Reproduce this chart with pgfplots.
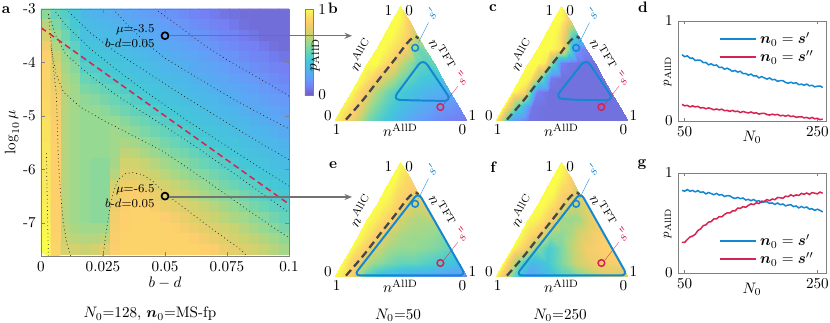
\documentclass[border=0pt]{standalone}
\usepackage{pgfplots}
\usepackage{bm}
\pgfplotsset{compat=1.18}
\usetikzlibrary{arrows.meta}
\definecolor{lblue}{RGB}{20,135,210}
\definecolor{lred}{RGB}{214,35,80}
\definecolor{dgray}{RGB}{70,70,70}
\pgfplotsset{
  colormap={paru}{rgb255(0cm)=(110,92,190) rgb255(1cm)=(116,128,244) rgb255(2cm)=(98,159,249)
    rgb255(3cm)=(77,182,234) rgb255(4cm)=(68,200,215) rgb255(5cm)=(100,211,186)
    rgb255(6cm)=(150,217,146) rgb255(7cm)=(203,211,112) rgb255(8cm)=(236,206,106)
    rgb255(8.5cm)=(253,206,110) rgb255(9cm)=(251,217,100) rgb255(9.5cm)=(248,234,92)
    rgb255(10cm)=(251,252,74)},
  colormap name=paru, point meta min=0, point meta max=1,
  tern/.style={anchor=south west, scale only axis, width=87.78pt, height=76.02pt,
    xmin=0, xmax=1, ymin=0, ymax=0.866, hide axis, clip=false},
  tpatch/.style={surf, shader=interp, mesh/cols=9, point meta=explicit},
  cont/.style={dotted, black!85, line width=0.5pt},
  lines/.style={anchor=south west, scale only axis, width=97.68pt, height=66pt,
    xmin=40, xmax=263, ymin=0, ymax=1, xtick={50,250}, ytick={0,1},
    tick align=inside, major tick length=2pt, axis line style={gray}, tick style={gray},
    xlabel={$N_0$}, ylabel={$p_{\mathrm{AllD}}$},
    ylabel style={font=\footnotesize, at={(axis description cs:-0.07,0.5)}, anchor=center},
    xlabel style={at={(axis description cs:0.5,-0.16)}, anchor=center},
    legend style={draw=none, fill=none, row sep=-1pt}, legend cell align=left,
    legend image code/.code={\draw[#1, line width=1.3pt] (0pt,0pt) -- (24pt,0pt);}},
}
% ternary x/y from lattice index: 9 points per row, row j has AllC share j/8
\newcommand{\ternx}{mod(\coordindex,9)/8*(1-floor(\coordindex/9)/8)+floor(\coordindex/9)/16}
\newcommand{\terny}{0.866*floor(\coordindex/9)/8}
\newcommand{\terndeco}{%
  \node at (axis cs:0.41,0.83) {1};
  \node at (axis cs:0.565,0.83) {0};
  \node at (axis cs:-0.045,0.04) {0};
  \node at (axis cs:0.02,-0.065) {1};
  \node at (axis cs:1.04,0.045) {1};
  \node at (axis cs:0.965,-0.065) {0};
  \node[rotate=60] at (axis cs:0.2,0.5) {$n^{\mathrm{AllC}}$};
  \node[rotate=-60] at (axis cs:0.815,0.5) {$n^{\mathrm{TFT}}$};
  \node at (axis cs:0.5,-0.07) {$n^{\mathrm{AllD}}$};
  \addplot[dgray, line width=1.5pt, dash pattern=on 5pt off 3pt, smooth] coordinates {
    (0.09,0.01) (0.218,0.158) (0.346,0.323) (0.47,0.48) (0.545,0.58) (0.59,0.625) (0.615,0.635) (0.635,0.62)};
  \draw[lblue, very thin] (axis cs:0.635,0.59) -- (axis cs:0.71,0.74);
  \node[lblue, rotate=60, font=\small] at (axis cs:0.735,0.81) {$s'$};
  \draw[lred, very thin] (axis cs:0.825,0.125) -- (axis cs:0.93,0.26);
  \node[lred, rotate=60, font=\small] at (axis cs:0.965,0.325) {$s''$};
}
\newcommand{\terncircles}{%
  \addplot[only marks, mark=o, mark size=2.2pt, lblue, line width=1pt] coordinates {(0.61,0.55)};
  \addplot[only marks, mark=o, mark size=2.2pt, lred, line width=1pt] coordinates {(0.80,0.105)};
}

\begin{document}
\begin{tikzpicture}[x=0.66pt, y=0.66pt]
\path[use as bounding box] (0,0) rectangle (830,323);

% ---------------- panel a: heat map ----------------
\begin{axis}[at={(27.06pt,44.22pt)}, anchor=south west, scale only axis, width=163.68pt, height=163.02pt,
  xmin=0, xmax=0.1, ymin=-7.62, ymax=-3,
  xtick={0,0.025,0.05,0.075,0.1}, xticklabels={0,0.025,0.05,0.075,0.1},
  ytick={-7,-6,-5,-4,-3}, yticklabels={-7,-6,-5,-4,-3},
  tick align=inside, major tick length=2.5pt, axis line style={gray}, tick style={gray},
  xlabel={$b-d$}, ylabel={$\log_{10}\mu$},
  xlabel style={at={(axis description cs:0.5,-0.11)}, anchor=center},
  ylabel style={at={(axis description cs:-0.117,0.5)}, anchor=center},
  axis on top,
  colorbar, colorbar style={at={(parent axis.north east)}, anchor=north west, xshift=2pt,
    scale only axis, width=5.3pt, height=56.8pt, ytick={0,1}, yticklabels={0,1},
    yticklabel pos=right, axis line style={gray}, major tick length=0pt}]
\addplot[matrix plot*, mesh/cols=25, point meta=explicit]
  table[header=false, row sep=\\, meta index=0,
    x expr={0.002+0.004*mod(\coordindex,25)}, y expr={-3.1-0.2*floor(\coordindex/25)}] {
.58\\ .50\\ .45\\ .38\\ .31\\ .29\\ .28\\ .26\\ .24\\ .22\\ .21\\ .19\\ .17\\ .16\\ .14\\ .12\\ .10\\ .09\\ .07\\ .06\\ .05\\ .05\\ .05\\ .05\\ .05\\
.66\\ .55\\ .48\\ .41\\ .34\\ .32\\ .30\\ .29\\ .27\\ .25\\ .23\\ .22\\ .20\\ .18\\ .17\\ .15\\ .13\\ .11\\ .10\\ .08\\ .06\\ .05\\ .05\\ .05\\ .05\\
.74\\ .60\\ .52\\ .44\\ .36\\ .34\\ .33\\ .31\\ .29\\ .28\\ .26\\ .24\\ .22\\ .21\\ .19\\ .17\\ .16\\ .14\\ .12\\ .11\\ .09\\ .07\\ .05\\ .05\\ .05\\
.82\\ .65\\ .56\\ .48\\ .39\\ .37\\ .35\\ .34\\ .32\\ .30\\ .29\\ .27\\ .25\\ .23\\ .22\\ .20\\ .18\\ .17\\ .15\\ .13\\ .11\\ .10\\ .08\\ .06\\ .05\\
.86\\ .70\\ .60\\ .53\\ .41\\ .40\\ .38\\ .36\\ .35\\ .33\\ .31\\ .29\\ .28\\ .26\\ .24\\ .23\\ .21\\ .19\\ .17\\ .16\\ .14\\ .12\\ .11\\ .09\\ .07\\
.87\\ .74\\ .63\\ .57\\ .46\\ .44\\ .41\\ .39\\ .37\\ .35\\ .34\\ .32\\ .30\\ .29\\ .27\\ .25\\ .23\\ .22\\ .20\\ .18\\ .17\\ .15\\ .13\\ .11\\ .10\\
.87\\ .78\\ .65\\ .60\\ .51\\ .48\\ .45\\ .42\\ .40\\ .38\\ .36\\ .35\\ .33\\ .31\\ .30\\ .28\\ .26\\ .24\\ .23\\ .21\\ .19\\ .18\\ .16\\ .14\\ .12\\
.88\\ .80\\ .66\\ .62\\ .55\\ .53\\ .50\\ .47\\ .44\\ .41\\ .39\\ .37\\ .36\\ .34\\ .32\\ .30\\ .29\\ .27\\ .25\\ .24\\ .22\\ .20\\ .18\\ .17\\ .15\\
.88\\ .82\\ .66\\ .62\\ .59\\ .57\\ .54\\ .51\\ .48\\ .45\\ .42\\ .40\\ .38\\ .36\\ .35\\ .33\\ .31\\ .30\\ .28\\ .26\\ .24\\ .23\\ .21\\ .19\\ .18\\
.90\\ .83\\ .66\\ .62\\ .60\\ .60\\ .58\\ .55\\ .52\\ .49\\ .47\\ .44\\ .41\\ .39\\ .37\\ .36\\ .34\\ .32\\ .30\\ .29\\ .27\\ .25\\ .24\\ .22\\ .20\\
.92\\ .84\\ .66\\ .62\\ .60\\ .60\\ .60\\ .60\\ .57\\ .54\\ .51\\ .48\\ .45\\ .42\\ .40\\ .38\\ .36\\ .35\\ .33\\ .31\\ .30\\ .28\\ .26\\ .24\\ .23\\
.93\\ .85\\ .66\\ .62\\ .60\\ .60\\ .60\\ .62\\ .61\\ .58\\ .55\\ .52\\ .50\\ .47\\ .44\\ .41\\ .39\\ .37\\ .36\\ .34\\ .32\\ .30\\ .29\\ .27\\ .25\\
.93\\ .86\\ .66\\ .62\\ .60\\ .60\\ .60\\ .62\\ .64\\ .63\\ .60\\ .57\\ .54\\ .51\\ .48\\ .45\\ .42\\ .40\\ .38\\ .37\\ .35\\ .33\\ .31\\ .30\\ .28\\
.94\\ .86\\ .66\\ .62\\ .60\\ .60\\ .60\\ .62\\ .68\\ .67\\ .64\\ .61\\ .58\\ .55\\ .53\\ .50\\ .47\\ .44\\ .41\\ .39\\ .37\\ .36\\ .34\\ .32\\ .31\\
.94\\ .86\\ .66\\ .62\\ .60\\ .58\\ .58\\ .63\\ .72\\ .72\\ .69\\ .66\\ .63\\ .60\\ .57\\ .54\\ .51\\ .48\\ .45\\ .42\\ .40\\ .38\\ .37\\ .35\\ .33\\
.94\\ .86\\ .66\\ .62\\ .60\\ .58\\ .58\\ .66\\ .76\\ .76\\ .73\\ .70\\ .67\\ .64\\ .61\\ .58\\ .56\\ .53\\ .50\\ .47\\ .44\\ .41\\ .39\\ .37\\ .36\\
.95\\ .86\\ .66\\ .62\\ .60\\ .58\\ .58\\ .72\\ .80\\ .80\\ .77\\ .74\\ .72\\ .69\\ .66\\ .63\\ .60\\ .57\\ .54\\ .51\\ .48\\ .46\\ .42\\ .40\\ .38\\
.95\\ .86\\ .66\\ .62\\ .60\\ .58\\ .58\\ .78\\ .83\\ .85\\ .82\\ .79\\ .76\\ .73\\ .70\\ .67\\ .64\\ .61\\ .58\\ .56\\ .53\\ .50\\ .47\\ .44\\ .41\\
.96\\ .86\\ .66\\ .62\\ .60\\ .58\\ .58\\ .80\\ .85\\ .87\\ .86\\ .83\\ .80\\ .78\\ .75\\ .72\\ .69\\ .66\\ .63\\ .60\\ .57\\ .54\\ .51\\ .48\\ .46\\
.97\\ .86\\ .66\\ .62\\ .60\\ .58\\ .58\\ .82\\ .86\\ .87\\ .87\\ .87\\ .85\\ .82\\ .79\\ .76\\ .73\\ .70\\ .67\\ .64\\ .62\\ .59\\ .56\\ .53\\ .50\\
.98\\ .86\\ .68\\ .64\\ .62\\ .62\\ .62\\ .83\\ .86\\ .87\\ .87\\ .87\\ .87\\ .86\\ .83\\ .80\\ .78\\ .75\\ .72\\ .69\\ .66\\ .63\\ .60\\ .57\\ .54\\
.99\\ .87\\ .70\\ .67\\ .66\\ .66\\ .68\\ .84\\ .87\\ .87\\ .87\\ .87\\ .87\\ .87\\ .87\\ .85\\ .82\\ .79\\ .76\\ .73\\ .70\\ .68\\ .65\\ .62\\ .59\\
1.0\\ .88\\ .74\\ .72\\ .70\\ .72\\ .76\\ .85\\ .87\\ .87\\ .87\\ .87\\ .87\\ .87\\ .87\\ .87\\ .86\\ .84\\ .80\\ .78\\ .75\\ .72\\ .69\\ .66\\ .63\\
};
% dotted contours
\addplot[cont] coordinates {(0.046,-3.0) (0.055,-3.3) (0.065,-3.65) (0.075,-3.95) (0.085,-4.22) (0.093,-4.43) (0.1,-4.63)};
\addplot[cont] coordinates {(0.029,-3.0) (0.035,-3.3) (0.042,-3.62) (0.05,-3.92) (0.06,-4.2) (0.07,-4.48) (0.08,-4.75) (0.09,-5.0) (0.1,-5.24)};
\addplot[cont] coordinates {(0.01,-3.0) (0.02,-3.45) (0.03,-3.8) (0.04,-4.1) (0.05,-4.4) (0.06,-4.7) (0.07,-4.98) (0.08,-5.27) (0.09,-5.55) (0.1,-5.82)};
\addplot[cont] coordinates {(0.005,-3.0) (0.01,-3.3) (0.02,-3.75) (0.03,-4.12) (0.04,-4.47) (0.05,-4.8) (0.06,-5.12) (0.07,-5.42) (0.08,-5.72) (0.09,-6.02) (0.1,-6.31)};
\addplot[cont] coordinates {(0.003,-3.1) (0.006,-3.5) (0.01,-3.85) (0.02,-4.25) (0.03,-4.6) (0.04,-4.9) (0.05,-5.2) (0.06,-5.5) (0.07,-5.82) (0.08,-6.15) (0.09,-6.48) (0.1,-6.81)};
\addplot[cont] coordinates {(0.004,-3.7) (0.006,-4.2) (0.009,-4.55) (0.0157,-4.83) (0.025,-5.08) (0.035,-5.32) (0.0488,-5.65) (0.06,-6.0) (0.07,-6.32) (0.08,-6.65) (0.09,-6.97) (0.1,-7.28)};
\addplot[cont] coordinates {(0.003,-3.1) (0.004,-3.6) (0.005,-4.1) (0.0062,-4.6) (0.0066,-5.2) (0.007,-5.8) (0.0078,-6.4) (0.009,-7.0) (0.0105,-7.4) (0.012,-7.62)};
\addplot[cont] coordinates {(0.0022,-5.7) (0.0024,-6.3) (0.0027,-7.0) (0.003,-7.62)};
\addplot[cont] coordinates {(0.025,-7.62) (0.0262,-7.2) (0.0275,-6.8) (0.029,-6.45) (0.031,-6.2) (0.034,-6.08) (0.037,-6.06) (0.041,-6.1) (0.045,-6.22) (0.05,-6.45) (0.06,-6.8) (0.07,-7.15) (0.08,-7.48) (0.083,-7.62)};
\addplot[lred, line width=1pt, dash pattern=on 4pt off 2.5pt] coordinates {(0,-3.35) (0.1,-6.65)};
\addplot[only marks, mark=o, mark size=2.3pt, black, line width=1.1pt] coordinates {(0.05,-3.5) (0.05,-6.5)};
\node[anchor=east, font=\footnotesize, inner sep=1pt] at (axis cs:0.0465,-3.38) {$\mu$=-3.5};
\node[anchor=east, font=\footnotesize, inner sep=1pt] at (axis cs:0.0465,-3.64) {$b$-$d$=0.05};
\node[anchor=east, font=\footnotesize, inner sep=1pt] at (axis cs:0.0465,-6.37) {$\mu$=-6.5};
\node[anchor=east, font=\footnotesize, inner sep=1pt] at (axis cs:0.0465,-6.64) {$b$-$d$=0.05};
\end{axis}
\node[rotate=90] at (315,268) {$p_{\mathrm{AllD}}$};
\draw[gray!90!black, line width=0.7pt, -{Stealth[length=5pt, width=4pt]}] (169,287.2) -- (352,287.2);
\draw[gray!90!black, line width=0.7pt, -{Stealth[length=5pt, width=4pt]}] (169,126) -- (352,126);

% ---------------- panel b ----------------
\begin{axis}[tern, at={(220.44pt,133.32pt)}]
\addplot[tpatch] table[header=false, row sep=\\, meta index=0, x expr={\ternx}, y expr={\terny}] {
.97\\ .82\\ .55\\ .40\\ .28\\ .20\\ .14\\ .10\\ .08\\
.98\\ .84\\ .60\\ .46\\ .35\\ .28\\ .22\\ .18\\ .14\\
1\\ .85\\ .65\\ .52\\ .42\\ .35\\ .30\\ .27\\ .25\\
1\\ .92\\ .78\\ .68\\ .56\\ .48\\ .40\\ .38\\ .38\\
1\\ 1\\ .92\\ .85\\ .70\\ .60\\ .50\\ .48\\ .50\\
1\\ 1\\ .97\\ .92\\ .88\\ .82\\ .60\\ .52\\ .55\\
1\\ 1\\ 1\\ .97\\ .94\\ .90\\ .85\\ .75\\ .70\\
1\\ 1\\ 1\\ 1\\ .98\\ .95\\ .92\\ .88\\ .85\\
1\\ 1\\ 1\\ 1\\ 1\\ 1\\ 1\\ 1\\ 1\\
};
\terndeco
\addplot[lblue, line width=1.3pt, rounded corners=5pt] coordinates {(0.6,0.155) (0.44,0.16) (0.67,0.47) (0.885,0.15) (0.6,0.155)};
\terncircles
\end{axis}

% ---------------- panel c ----------------
\begin{axis}[tern, at={(326.7pt,133.32pt)}]
\addplot[tpatch] table[header=false, row sep=\\, meta index=0, x expr={\ternx}, y expr={\terny}] {
1\\ .20\\ .07\\ .06\\ .06\\ .06\\ .06\\ .06\\ .06\\
1\\ .45\\ .07\\ .06\\ .06\\ .06\\ .06\\ .06\\ .06\\
1\\ .88\\ .10\\ .06\\ .06\\ .06\\ .06\\ .06\\ .06\\
1\\ .97\\ .55\\ .08\\ .06\\ .06\\ .06\\ .06\\ .06\\
1\\ 1\\ .95\\ .50\\ .10\\ .07\\ .06\\ .06\\ .06\\
1\\ 1\\ 1\\ .97\\ .92\\ .60\\ .20\\ .12\\ .10\\
1\\ 1\\ 1\\ .97\\ .90\\ .75\\ .55\\ .45\\ .40\\
1\\ 1\\ 1\\ 1\\ .98\\ .95\\ .90\\ .85\\ .80\\
1\\ 1\\ 1\\ 1\\ 1\\ 1\\ 1\\ 1\\ 1\\
};
\terndeco
\addplot[lblue, line width=1.3pt, rounded corners=5pt] coordinates {(0.6,0.16) (0.45,0.17) (0.685,0.47) (0.895,0.155) (0.6,0.16)};
\terncircles
\end{axis}

% ---------------- panel e ----------------
\begin{axis}[tern, at={(220.44pt,30.36pt)}]
\addplot[tpatch] table[header=false, row sep=\\, meta index=0, x expr={\ternx}, y expr={\terny}] {
1\\ .85\\ .45\\ .30\\ .25\\ .20\\ .18\\ .15\\ .12\\
1\\ .80\\ .62\\ .55\\ .50\\ .50\\ .45\\ .40\\ .32\\
1\\ .88\\ .72\\ .63\\ .60\\ .60\\ .58\\ .55\\ .50\\
1\\ .93\\ .82\\ .70\\ .64\\ .62\\ .62\\ .60\\ .58\\
1\\ .96\\ .90\\ .85\\ .72\\ .67\\ .65\\ .66\\ .70\\
1\\ .98\\ .95\\ .90\\ .85\\ .78\\ .72\\ .72\\ .75\\
1\\ 1\\ .97\\ .93\\ .90\\ .88\\ .85\\ .82\\ .82\\
1\\ 1\\ 1\\ .97\\ .95\\ .93\\ .92\\ .90\\ .90\\
1\\ 1\\ 1\\ 1\\ 1\\ 1\\ 1\\ 1\\ 1\\
};
\terndeco
\addplot[lblue, line width=1.3pt, rounded corners=4pt] coordinates {(0.5,0.012) (0.15,0.012) (0.635,0.635) (0.99,0.012) (0.5,0.012)};
\terncircles
\end{axis}

% ---------------- panel f ----------------
\begin{axis}[tern, at={(326.7pt,30.36pt)}]
\addplot[tpatch] table[header=false, row sep=\\, meta index=0, x expr={\ternx}, y expr={\terny}] {
1\\ .55\\ .20\\ .30\\ .45\\ .55\\ .65\\ .75\\ .72\\
1\\ .55\\ .30\\ .40\\ .55\\ .70\\ .80\\ .82\\ .85\\
1\\ .85\\ .58\\ .42\\ .55\\ .70\\ .82\\ .85\\ .88\\
1\\ .90\\ .80\\ .60\\ .58\\ .65\\ .75\\ .82\\ .86\\
1\\ .97\\ .90\\ .80\\ .62\\ .60\\ .62\\ .72\\ .85\\
1\\ 1\\ .95\\ .90\\ .82\\ .72\\ .68\\ .70\\ .78\\
1\\ 1\\ 1\\ .95\\ .90\\ .87\\ .85\\ .78\\ .70\\
1\\ 1\\ 1\\ 1\\ .97\\ .95\\ .92\\ .90\\ .88\\
1\\ 1\\ 1\\ 1\\ 1\\ 1\\ 1\\ 1\\ 1\\
};
\terndeco
\addplot[lblue, line width=1.3pt, rounded corners=4pt] coordinates {(0.5,0.012) (0.158,0.012) (0.644,0.635) (0.995,0.012) (0.5,0.012)};
\terncircles
\end{axis}

% ---------------- panel d ----------------
\begin{axis}[lines, at={(447.48pt,133.32pt)}, legend style={at={(0.97,0.95)}, anchor=north east}]
\addplot[lblue, line width=1pt] coordinates {(46,.664)(50,.643)(54,.652)(58,.629)(62,.630)(66,.605)(70,.609)(74,.607)(78,.584)(82,.585)(86,.562)(90,.572)(94,.555)(98,.560)(102,.535)(106,.538)(110,.518)(114,.528)(118,.514)(122,.496)(126,.505)(130,.489)(134,.497)(138,.473)(142,.475)(146,.458)(150,.469)(154,.450)(158,.453)(162,.431)(166,.444)(170,.431)(174,.419)(178,.430)(182,.412)(186,.416)(190,.396)(194,.404)(198,.404)(202,.386)(206,.377)(210,.388)(214,.376)(218,.383)(222,.363)(226,.369)(230,.357)(234,.369)(238,.352)(242,.357)(246,.341)(250,.348)(254,.350)(258,.335)};
\addlegendentry{$\bm{n}_0=\bm{s}'$}
\addplot[lred, line width=1pt] coordinates {(46,.166)(50,.152)(54,.156)(58,.141)(62,.151)(66,.141)(70,.146)(74,.130)(78,.134)(82,.122)(86,.131)(90,.123)(94,.112)(98,.120)(102,.111)(106,.118)(110,.103)(114,.106)(118,.096)(122,.106)(126,.094)(130,.099)(134,.084)(138,.095)(142,.087)(146,.080)(150,.090)(154,.078)(158,.082)(162,.069)(166,.076)(170,.077)(174,.065)(178,.059)(182,.068)(186,.061)(190,.066)(194,.052)(198,.057)(202,.048)(206,.057)(210,.045)(214,.049)(218,.037)(222,.041)(226,.043)(230,.031)(234,.036)(238,.024)(242,.035)(246,.022)(250,.027)(254,.013)(258,.019)};
\addlegendentry{$\bm{n}_0=\bm{s}''$}
\end{axis}

% ---------------- panel g ----------------
\begin{axis}[lines, at={(447.48pt,33pt)}, legend style={at={(0.97,0.45)}, anchor=north east}]
\addplot[lblue, line width=1pt] coordinates {(46,.826)(50,.818)(54,.834)(58,.818)(62,.825)(66,.811)(70,.824)(74,.806)(78,.811)(82,.791)(86,.805)(90,.794)(94,.783)(98,.796)(102,.779)(106,.784)(110,.765)(114,.773)(118,.772)(122,.754)(126,.745)(130,.756)(134,.743)(138,.750)(142,.730)(146,.736)(150,.723)(154,.735)(158,.717)(162,.722)(166,.705)(170,.711)(174,.712)(178,.696)(182,.701)(186,.685)(190,.700)(194,.683)(198,.690)(202,.671)(206,.679)(210,.683)(214,.664)(218,.670)(222,.651)(226,.665)(230,.652)(234,.660)(238,.638)(242,.643)(246,.626)(250,.638)(254,.626)(258,.610)};
\addlegendentry{$\bm{n}_0=\bm{s}'$}
\addplot[lred, line width=1pt] coordinates {(46,.306)(50,.306)(54,.334)(58,.360)(62,.369)(66,.387)(70,.425)(74,.440)(78,.474)(82,.481)(86,.509)(90,.513)(94,.542)(98,.541)(102,.563)(106,.562)(110,.585)(114,.601)(118,.600)(122,.620)(126,.620)(130,.649)(134,.646)(138,.664)(142,.656)(146,.676)(150,.691)(154,.684)(158,.702)(162,.694)(166,.718)(170,.716)(174,.734)(178,.723)(182,.740)(186,.733)(190,.755)(194,.753)(198,.747)(202,.768)(206,.763)(210,.782)(214,.769)(218,.781)(222,.775)(226,.796)(230,.787)(234,.800)(238,.785)(242,.804)(246,.798)(250,.791)(254,.809)(258,.797)};
\addlegendentry{$\bm{n}_0=\bm{s}''$}
\end{axis}

% ---------------- letters and captions ----------------
\node[font=\bfseries] at (6,313) {a};
\node[font=\bfseries] at (333,315) {b};
\node[font=\bfseries] at (493,315) {c};
\node[font=\bfseries] at (643,316) {d};
\node[font=\bfseries] at (333,158) {e};
\node[font=\bfseries] at (493,156) {f};
\node[font=\bfseries] at (642,158) {g};
\node at (150,9) {$N_0$=128, $\bm{n}_0$=MS-fp};
\node at (398,8) {$N_0$=50};
\node at (560,8) {$N_0$=250};
\end{tikzpicture}
\end{document}
